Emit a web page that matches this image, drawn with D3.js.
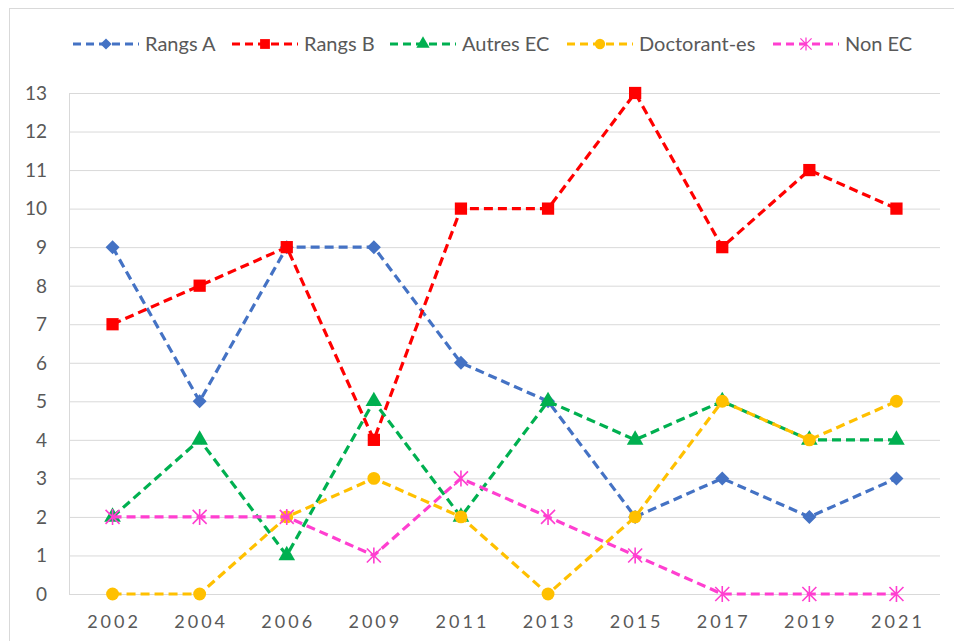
<!DOCTYPE html>
<html>
<head>
<meta charset="utf-8">
<script src="https://cdn.jsdelivr.net/npm/d3@7"></script>
<style>
  body { margin: 0; background: #fff; }
  text { font-family: Lato, "Open Sans", sans-serif; }
</style>
</head>
<body>
<svg id="chart" width="954" height="641"></svg>
<script>
const years = ["2002", "2004", "2006", "2009", "2011", "2013", "2015", "2017", "2019", "2021"];
const rangsA = [9, 5, 9, 9, 6, 5, 2, 3, 2, 3];
const rangsB = [7, 8, 9, 4, 10, 10, 13, 9, 11, 10];
const autresEC = [2, 4, 1, 5, 2, 5, 4, 5, 4, 4];
const doctorants = [0, 0, 2, 3, 2, 0, 2, 5, 4, 5];
const nonEC = [2, 2, 2, 1, 3, 2, 1, 0, 0, 0];
const yTicks = d3.range(0, 14);

const series = [
  { name: "Rangs A", values: rangsA, color: "#4472C4", marker: "diamond" },
  { name: "Rangs B", values: rangsB, color: "#FF0000", marker: "square" },
  { name: "Autres EC", values: autresEC, color: "#00B050", marker: "triangle" },
  { name: "Doctorant-es", values: doctorants, color: "#FFC000", marker: "circle" },
  { name: "Non EC", values: nonEC, color: "#FF3FD0", marker: "star" }
];

const svg = d3.select("#chart");

// outer chart frame
svg.append("rect")
  .attr("x", 9.5).attr("y", 8.5)
  .attr("width", 950).attr("height", 640)
  .attr("fill", "#fff").attr("stroke", "#d9d9d9");

const plot = { left: 69, right: 940, top: 93, bottom: 594 };

const x = d3.scaleBand().domain(years).range([plot.left, plot.right]);
const y = d3.scaleLinear().domain([0, 13]).range([plot.bottom, plot.top]);
const cx = d => x(d) + x.bandwidth() / 2;

// gridlines
svg.append("g")
  .attr("transform", `translate(${plot.left},0)`)
  .call(d3.axisLeft(y).tickValues(yTicks).tickSize(-(plot.right - plot.left)).tickFormat(""))
  .call(g => g.select(".domain").remove())
  .call(g => g.selectAll("line").attr("stroke", "#d9d9d9").attr("stroke-width", 1));

// y labels
svg.append("g")
  .selectAll("text")
  .data(yTicks)
  .join("text")
  .attr("x", 47)
  .attr("y", d => y(d))
  .attr("dy", "0.36em")
  .attr("text-anchor", "end")
  .attr("font-size", 19)
  .attr("fill", "#595959")
  .text(d => d);

// axis lines
svg.append("line")
  .attr("x1", plot.left + 0.5).attr("x2", plot.left + 0.5)
  .attr("y1", plot.top).attr("y2", plot.bottom)
  .attr("stroke", "#d9d9d9");
svg.append("line")
  .attr("x1", plot.left).attr("x2", plot.right)
  .attr("y1", plot.bottom + 0.5).attr("y2", plot.bottom + 0.5)
  .attr("stroke", "#d9d9d9");

// x labels
svg.append("g")
  .selectAll("text")
  .data(years)
  .join("text")
  .attr("x", d => cx(d) + 1.5)
  .attr("y", 628)
  .attr("text-anchor", "middle")
  .attr("font-size", 18)
  .attr("letter-spacing", "3px")
  .attr("fill", "#595959")
  .text(d => d);

const markerPath = (type) => {
  switch (type) {
    case "diamond": return "M0,-7L7,0L0,7L-7,0Z";
    case "square": return d3.symbol(d3.symbolSquare, 150)();
    case "triangle": return d3.symbol(d3.symbolTriangle, 120)();
    case "circle": return d3.symbol(d3.symbolCircle, 130)();
    default: {
      const s = 7;
      return `M${-s},${-s}L${s},${s}M${-s},${s}L${s},${-s}M0,${-s - 1}L0,${s + 1}`;
    }
  }
};

const drawMarker = (g, type, color) => {
  if (type === "star") {
    g.append("path").attr("d", markerPath(type))
      .attr("fill", "none").attr("stroke", color).attr("stroke-width", 1.6);
  } else {
    g.append("path").attr("d", markerPath(type)).attr("fill", color);
  }
};

const line = d3.line()
  .x((d, i) => cx(years[i]))
  .y(d => y(d));

series.forEach(s => {
  const g = svg.append("g");
  g.append("path")
    .attr("d", line(s.values))
    .attr("fill", "none")
    .attr("stroke", s.color)
    .attr("stroke-width", 3.2)
    .attr("stroke-dasharray", "9,5");
  s.values.forEach((v, i) => {
    const m = g.append("g").attr("transform", `translate(${cx(years[i])},${y(v)})`);
    drawMarker(m, s.marker, s.color);
  });
});

// legend
const legendX = [73, 232, 390, 567, 773];
series.forEach((s, i) => {
  const g = svg.append("g").attr("transform", `translate(${legendX[i]},44)`);
  g.append("line")
    .attr("x1", 0).attr("x2", 66)
    .attr("stroke", s.color).attr("stroke-width", 3)
    .attr("stroke-dasharray", "8,5");
  const m = g.append("g").attr("transform", "translate(33,0) scale(0.8)");
  drawMarker(m, s.marker, s.color);
  g.append("text")
    .attr("x", 72).attr("dy", "0.36em")
    .attr("font-size", 20).attr("fill", "#595959")
    .text(s.name);
});
</script>
</body>
</html>
